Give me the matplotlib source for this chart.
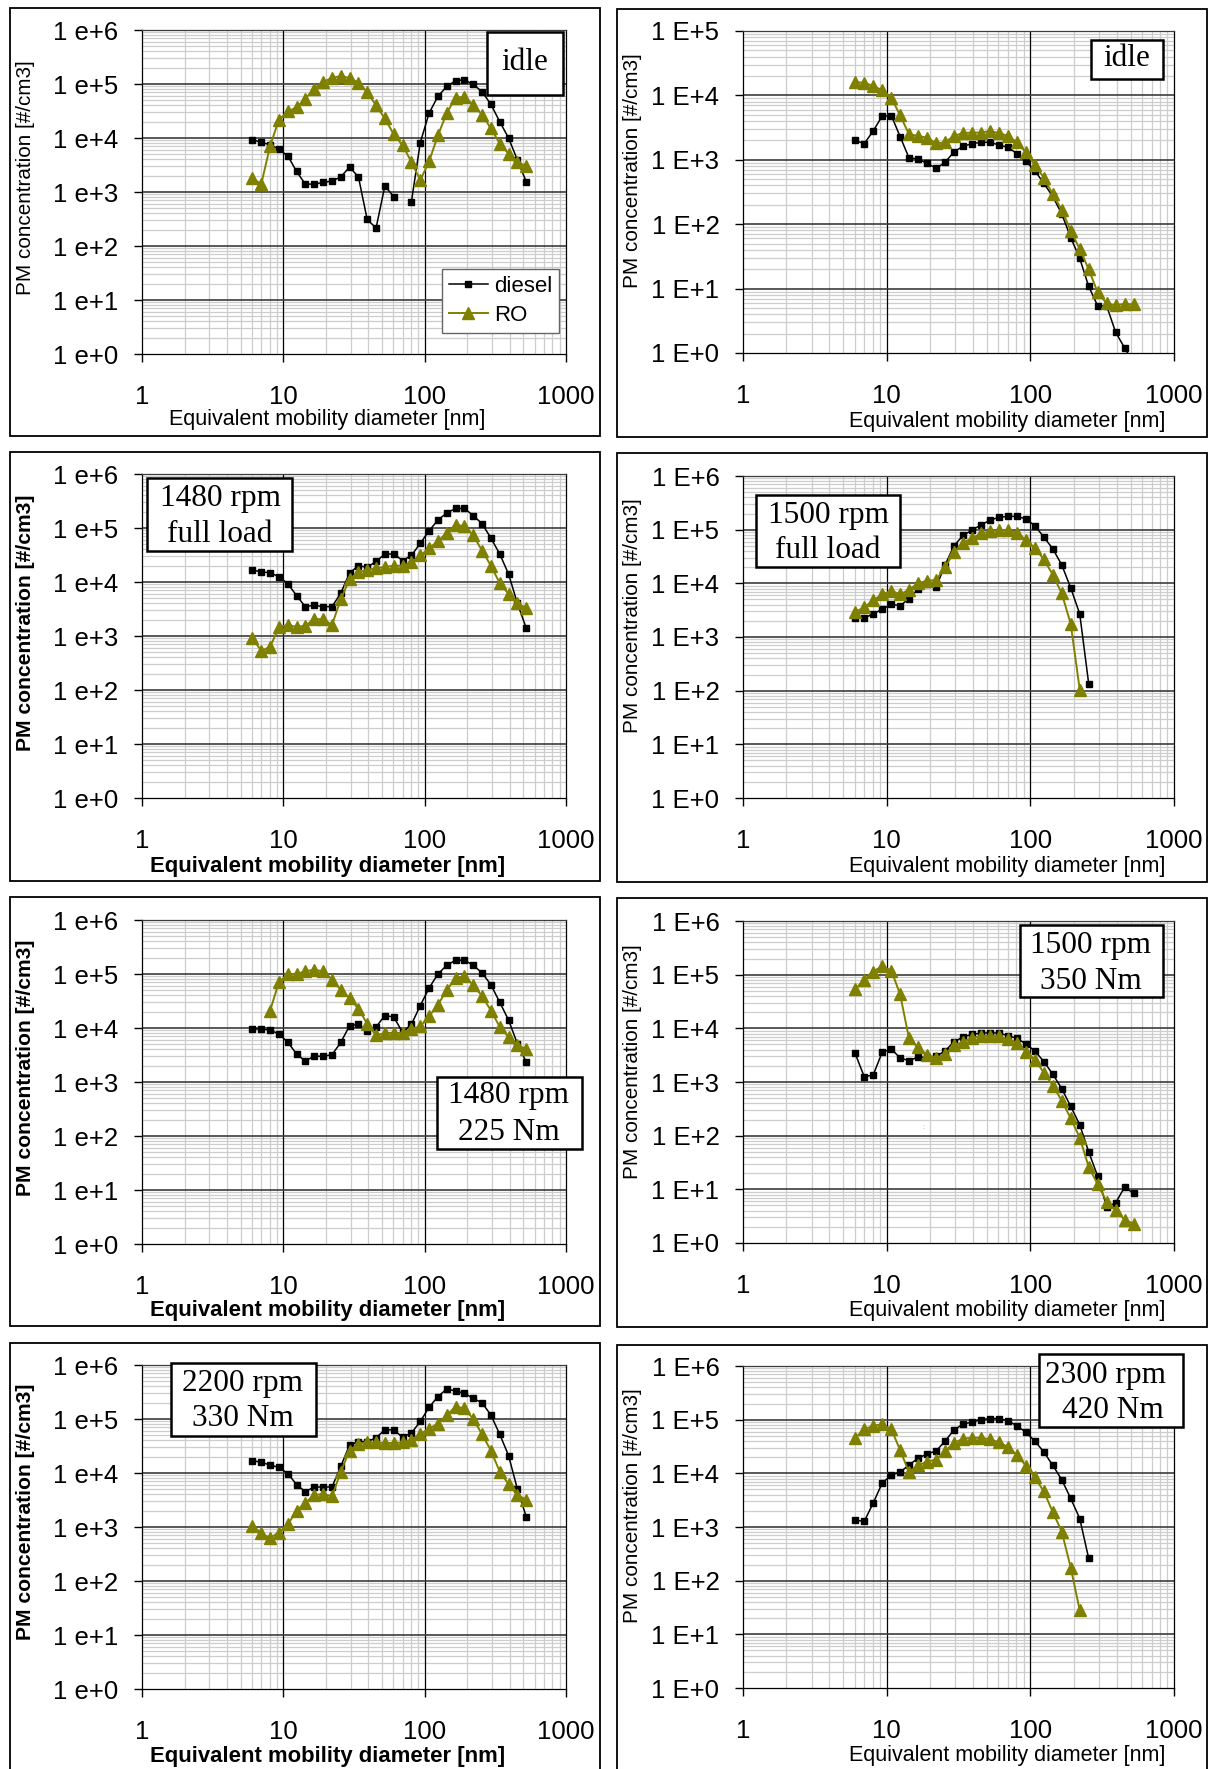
import numpy as np
import matplotlib
matplotlib.use("Agg")
import matplotlib.pyplot as plt
from matplotlib.ticker import LogLocator, FixedLocator, FixedFormatter, NullFormatter
from matplotlib.patches import Rectangle

nan = np.nan

# EEPS channel mid-point diameters [nm]
diameters = [6.04, 6.98, 8.06, 9.31, 10.8, 12.4, 14.3, 16.5, 19.1, 22.1, 25.5,
             29.4, 34.0, 39.2, 45.3, 52.3, 60.4, 69.8, 80.6, 93.1, 107.5, 124.1,
             143.3, 165.5, 191.1, 220.7, 254.8, 294.3, 339.8, 392.4, 453.2, 523.3]

# idle (left)
idle_a_diesel = [9.3e3, 8.3e3, 7.5e3, 6.2e3, 4.6e3, 2.4e3, 1.4e3, 1.4e3, 1.5e3, 1.6e3, 1.9e3,
                 2.9e3, 1.9e3, 310, 215, 1.3e3, 820, nan, 660, 8.2e3, 2.9e4, 5.9e4,
                 9.0e4, 1.15e5, 1.2e5, 9.8e4, 7.2e4, 4.2e4, 2.0e4, 1.0e4, 3.9e3, 1.55e3]
idle_a_ro = [1.8e3, 1.4e3, 7.1e3, 2.2e4, 3.1e4, 3.7e4, 5.3e4, 8.2e4, 1.09e5, 1.3e5, 1.4e5,
             1.3e5, 1.05e5, 7.1e4, 4.0e4, 2.3e4, 1.17e4, 7.3e3, 3.6e3, 1.65e3, 3.7e3, 1.12e4,
             2.9e4, 5.6e4, 5.8e4, 4.1e4, 2.7e4, 1.5e4, 7.9e3, 5.1e3, 3.6e3, 3.0e3]

# idle (right)
idle_b_diesel = [2.0e3, 1.78e3, 2.8e3, 4.8e3, 4.8e3, 2.3e3, 1.07e3, 1.03e3, 880, 740, 910,
                 1.33e3, 1.62e3, 1.78e3, 1.87e3, 1.87e3, 1.7e3, 1.56e3, 1.25e3, 950, 680, 430,
                 270, 144, 62, 29.5, 10.8, 5.4, 5.4, 2.1, 1.2, 0.7]
idle_b_ro = [1.62e4, 1.56e4, 1.41e4, 1.2e4, 9.1e3, 4.9e3, 2.5e3, 2.35e3, 2.2e3, 1.8e3, 1.87e3,
             2.35e3, 2.6e3, 2.65e3, 2.65e3, 2.8e3, 2.6e3, 2.35e3, 1.87e3, 1.3e3, 830, 530,
             290, 166, 79, 41, 20, 8.7, 5.9, 5.5, 5.8, 5.7]

# 1480 rpm full load
fl1480_diesel = [1.65e4, 1.55e4, 1.47e4, 1.26e4, 9.2e3, 5.6e3, 3.5e3, 3.7e3, 3.5e3, 3.5e3, 6.2e3,
                 1.47e4, 2.0e4, 1.87e4, 2.4e4, 3.3e4, 3.3e4, 2.5e4, 3.1e4, 5.2e4, 8.9e4, 1.4e5,
                 1.9e5, 2.3e5, 2.3e5, 1.7e5, 1.2e5, 6.5e4, 3.3e4, 1.4e4, 4.0e3, 1.4e3]
fl1480_ro = [920, 530, 630, 1.47e3, 1.6e3, 1.47e3, 1.55e3, 2.05e3, 2.05e3, 1.6e3, 4.8e3,
             1.12e4, 1.5e4, 1.7e4, 1.8e4, 1.9e4, 2.0e4, 2.0e4, 2.3e4, 3.1e4, 4.2e4, 5.7e4,
             8.1e4, 1.16e5, 1.07e5, 7.3e4, 3.8e4, 2.0e4, 9.5e3, 6.0e3, 4.0e3, 3.3e3]

# 1500 rpm full load
fl1500_diesel = [2.3e3, 2.25e3, 2.7e3, 3.3e3, 4.1e3, 3.8e3, 5.2e3, 7.7e3, 9.6e3, 8.5e3, 2.2e4,
                 5.0e4, 7.8e4, 9.8e4, 1.22e5, 1.5e5, 1.7e5, 1.77e5, 1.77e5, 1.58e5, 1.19e5, 7.3e4,
                 4.4e4, 2.2e4, 8.2e3, 2.7e3, 135]
fl1500_ro = [2.9e3, 3.6e3, 4.8e3, 6.2e3, 7.3e3, 6.2e3, 7.6e3, 1.0e4, 1.12e4, 1.15e4, 2.0e4,
             3.8e4, 5.7e4, 6.9e4, 8.5e4, 9.3e4, 9.8e4, 9.8e4, 8.7e4, 6.5e4, 4.5e4, 2.8e4,
             1.45e4, 6.5e3, 1.74e3, 105]

# 1480 rpm 225 Nm
nm225_diesel = [9.6e3, 9.6e3, 9.2e3, 7.7e3, 5.4e3, 3.3e3, 2.45e3, 3.0e3, 3.0e3, 3.2e3, 5.4e3,
                1.1e4, 1.17e4, 8.7e3, 1.05e4, 1.7e4, 1.6e4, 8.3e3, 1.17e4, 2.6e4, 5.5e4, 1.0e5,
                1.45e5, 1.8e5, 1.8e5, 1.45e5, 1.05e5, 6.3e4, 3.0e4, 1.4e4, 5.1e3, 2.35e3]
nm225_ro = [nan, nan, 2.1e4, 7.1e4, 1.0e5, 1.0e5, 1.12e5, 1.2e5, 1.12e5, 7.9e4, 5.1e4,
            3.6e4, 2.25e4, 1.2e4, 7.3e3, 8.1e3, 8.1e3, 8.1e3, 9.6e3, 1.07e4, 1.65e4, 2.7e4,
            5.0e4, 8.5e4, 9.1e4, 6.2e4, 3.9e4, 2.1e4, 1.05e4, 6.8e3, 4.9e3, 4.0e3]

# 1500 rpm 350 Nm
nm350_diesel = [3.4e3, 1.25e3, 1.35e3, 3.6e3, 4.1e3, 2.8e3, 2.5e3, 2.9e3, 2.9e3, 3.0e3, 3.8e3,
                5.6e3, 6.9e3, 7.7e3, 8.2e3, 8.2e3, 8.2e3, 7.3e3, 6.5e3, 5.1e3, 3.8e3, 2.4e3,
                1.4e3, 750, 350, 160, 50, 17.5, 4.7, 5.6, 11, 8.4]
nm350_ro = [5.4e4, 8.0e4, 1.14e5, 1.45e5, 1.18e5, 4.3e4, 6.5e3, 4.4e3, 3.2e3, 2.8e3, 3.3e3,
            4.8e3, 5.6e3, 6.7e3, 7.1e3, 7.3e3, 7.1e3, 6.2e3, 5.4e3, 3.7e3, 2.6e3, 1.5e3,
            860, 450, 210, 92, 26, 12.4, 5.9, 4.1, 2.7, 2.3]

# 2200 rpm 330 Nm
nm330_diesel = [1.7e4, 1.58e4, 1.4e4, 1.27e4, 9.7e3, 6.1e3, 4.5e3, 5.5e3, 5.5e3, 5.5e3, 1.33e4,
                3.3e4, 3.8e4, 3.8e4, 4.5e4, 6.3e4, 6.3e4, 4.6e4, 5.5e4, 9.0e4, 1.65e5, 2.6e5,
                3.6e5, 3.3e5, 3.0e5, 2.4e5, 2.0e5, 1.18e5, 5.2e4, 2.1e4, 5.0e3, 1.55e3]
nm330_ro = [1.05e3, 760, 630, 790, 1.13e3, 2.0e3, 2.8e3, 3.9e3, 4.1e3, 3.7e3, 1.05e4,
            2.6e4, 3.5e4, 3.7e4, 3.7e4, 3.6e4, 3.6e4, 3.7e4, 4.1e4, 5.3e4, 6.6e4, 8.2e4,
            1.18e5, 1.7e5, 1.57e5, 1.0e5, 5.2e4, 2.6e4, 1.06e4, 6.2e3, 3.9e3, 3.2e3]

# 2300 rpm 420 Nm
nm420_diesel = [1.34e3, 1.27e3, 2.8e3, 6.6e3, 9.3e3, 1.05e4, 1.43e4, 1.9e4, 2.3e4, 2.6e4, 4.0e4,
                6.4e4, 8.3e4, 9.0e4, 1.0e5, 1.05e5, 1.05e5, 9.5e4, 7.7e4, 5.8e4, 4.0e4, 2.5e4,
                1.41e4, 7.6e3, 3.4e3, 1.44e3, 260]
nm420_ro = [4.6e4, 6.6e4, 7.7e4, 8.2e4, 6.6e4, 2.7e4, 1.05e4, 1.41e4, 1.65e4, 1.8e4, 2.6e4,
            3.7e4, 4.4e4, 4.6e4, 4.6e4, 4.3e4, 3.8e4, 3.1e4, 2.2e4, 1.39e4, 8.4e3, 4.6e3,
            1.9e3, 820, 175, 28]

x_ticks = [1, 10, 100, 1000]
x_tick_labels = ["1", "10", "100", "1000"]

W, H = 1213, 1769
plt.rcParams["font.family"] = ["Liberation Sans", "DejaVu Sans"]
fig = plt.figure(figsize=(W / 100, H / 100), dpi=100)


def fx(px):
    return px / W


def fy(py):
    return 1 - py / H


OLIVE = "#808000"

# (diesel, ro, top exponent, E-style, bold labels, axes px box, frame px box,
#  ylabel centre, xlabel centre, annotation box, annotation lines)
panels = [
    (idle_a_diesel, idle_a_ro, 6, "e", False, (142, 30, 566, 354), (10, 8, 600, 436),
     (26, 178), (327, 420), (487, 32, 563, 95), [("idle", 525, 62, "center")]),
    (idle_b_diesel, idle_b_ro, 5, "E", False, (743, 31, 1174, 353), (617, 9, 1207, 437),
     (633, 171), (1007, 421), (1091, 40, 1163, 79), [("idle", 1127, 58, "center")]),
    (fl1480_diesel, fl1480_ro, 6, "e", True, (142, 474, 566, 798), (10, 452, 600, 881),
     (26, 623), (328, 866), (147, 478, 292, 551),
     [("1480 rpm", 220, 498, "center"), ("full load", 220, 534, "center")]),
    (fl1500_diesel, fl1500_ro, 6, "E", False, (743, 476, 1174, 798), (617, 453, 1207, 882),
     (633, 616), (1007, 866), (756, 495, 900, 567),
     [("1500 rpm", 828, 515, "center"), ("full load", 828, 551, "center")]),
    (nm225_diesel, nm225_ro, 6, "e", True, (142, 920, 566, 1244), (10, 897, 600, 1326),
     (26, 1068), (328, 1310), (437, 1077, 582, 1149),
     [("1480 rpm", 509, 1096, "center"), ("225 Nm", 509, 1133, "center")]),
    (nm350_diesel, nm350_ro, 6, "E", False, (743, 921, 1174, 1243), (617, 898, 1207, 1327),
     (633, 1062), (1007, 1310), (1020, 925, 1163, 997),
     [("1500 rpm", 1091, 945, "center"), ("350 Nm", 1091, 981, "center")]),
    (nm330_diesel, nm330_ro, 6, "e", True, (142, 1365, 566, 1689), (10, 1343, 600, 1800),
     (26, 1512), (328, 1756), (171, 1363, 316, 1436),
     [("2200 rpm", 243, 1383, "center"), ("330 Nm", 243, 1419, "center")]),
    (nm420_diesel, nm420_ro, 6, "E", False, (743, 1366, 1174, 1688), (617, 1345, 1207, 1800),
     (633, 1506), (1007, 1755), (1039, 1354, 1183, 1427),
     [("2300 rpm", 1166, 1375, "right"), ("420 Nm", 1164, 1410, "right")]),
]

for i, (dsl, ro, top, estyle, bold, abox, frame, ylab, xlab, tbox, tlines) in enumerate(panels):
    x0, y0, x1, y1 = abox
    ax = fig.add_axes([fx(x0), fy(y1), fx(x1) - fx(x0), fy(y0) - fy(y1)])
    ax.set_xscale("log")
    ax.set_yscale("log")

    ax.plot(diameters[:len(dsl)], dsl, color="black", lw=1.1, marker="s", ms=4,
            label="diesel", zorder=3)
    ax.plot(diameters[:len(ro)], ro, color=OLIVE, lw=1.4, marker="^", ms=8,
            label="RO", zorder=4)

    ax.set_xlim(1, 1000)
    ax.set_ylim(1, 10 ** top)

    ax.xaxis.set_major_locator(FixedLocator(x_ticks))
    ax.xaxis.set_major_formatter(FixedFormatter(x_tick_labels))
    ax.xaxis.set_minor_locator(LogLocator(base=10, subs=np.arange(2, 10), numticks=100))
    ax.xaxis.set_minor_formatter(NullFormatter())
    yt = [10 ** k for k in range(top + 1)]
    ax.yaxis.set_major_locator(FixedLocator(yt))
    ax.yaxis.set_major_formatter(FixedFormatter([f"1 {estyle}+{k}" for k in range(top + 1)]))
    ax.yaxis.set_minor_locator(LogLocator(base=10, subs=np.arange(2, 10), numticks=100))
    ax.yaxis.set_minor_formatter(NullFormatter())

    ax.tick_params(which="major", direction="out", length=6, width=1, labelsize=18.5,
                   colors="black")
    ax.tick_params(axis="y", which="major", pad=11)
    ax.tick_params(axis="x", which="major", pad=16)
    ax.tick_params(which="minor", length=0)

    # light minor grid below, solid major lines on top of it
    ax.grid(True, which="minor", color="#cdcdcd", lw=0.9)
    ax.set_axisbelow(True)
    for v in x_ticks[1:-1]:
        ax.axvline(v, color="black", lw=0.9, zorder=1)
    for v in yt[1:-1]:
        ax.axhline(v, color="#3c3c3c", lw=1.2, zorder=1)
    for s in ax.spines.values():
        s.set_linewidth(0.9)
        s.set_color("black")
    ax.spines["top"].set_color("#3c3c3c")

    weight = "bold" if bold else "normal"
    ax.set_ylabel("PM concentration [#/cm3]", fontsize=15.2 if bold else 14.9,
                  fontweight=weight, va="center", ha="center")
    ax.yaxis.set_label_coords(fx(ylab[0]), fy(ylab[1]), transform=fig.transFigure)
    ax.set_xlabel("Equivalent mobility diameter [nm]", fontsize=15.9 if bold else 15.5,
                  fontweight=weight, va="center", ha="center")
    ax.xaxis.set_label_coords(fx(xlab[0]), fy(xlab[1]), transform=fig.transFigure)

    if i == 0:
        leg = ax.legend(loc="upper left", bbox_to_anchor=(fx(442), fy(269)),
                        bbox_transform=fig.transFigure, fontsize=16, fancybox=False,
                        edgecolor="#666666", framealpha=1, handlelength=1.75,
                        handletextpad=0.28, borderpad=0.3, labelspacing=0.38,
                        borderaxespad=0)
        leg.get_frame().set_linewidth(1.0)

    # panel frame
    fx0, fy0, fx1, fy1 = frame
    fig.add_artist(Rectangle((fx(fx0), fy(fy1)), fx(fx1) - fx(fx0), fy(fy0) - fy(fy1),
                             transform=fig.transFigure, fill=False, ec="black", lw=1.3))
    # condition box
    bx0, by0, bx1, by1 = tbox
    fig.add_artist(Rectangle((fx(bx0), fy(by1)), fx(bx1) - fx(bx0), fy(by0) - fy(by1),
                             transform=fig.transFigure, fc="white", ec="black", lw=1.8,
                             zorder=5))
    for txt, tx, ty, ha in tlines:
        fig.text(fx(tx), fy(ty), txt, ha=ha, va="center", fontsize=22.5,
                 family="Liberation Serif", zorder=6)

fig.text(fx(923), fy(1127), ":", fontsize=5, color="#888888", ha="center", va="center")

fig.savefig("out.png", dpi=100)
